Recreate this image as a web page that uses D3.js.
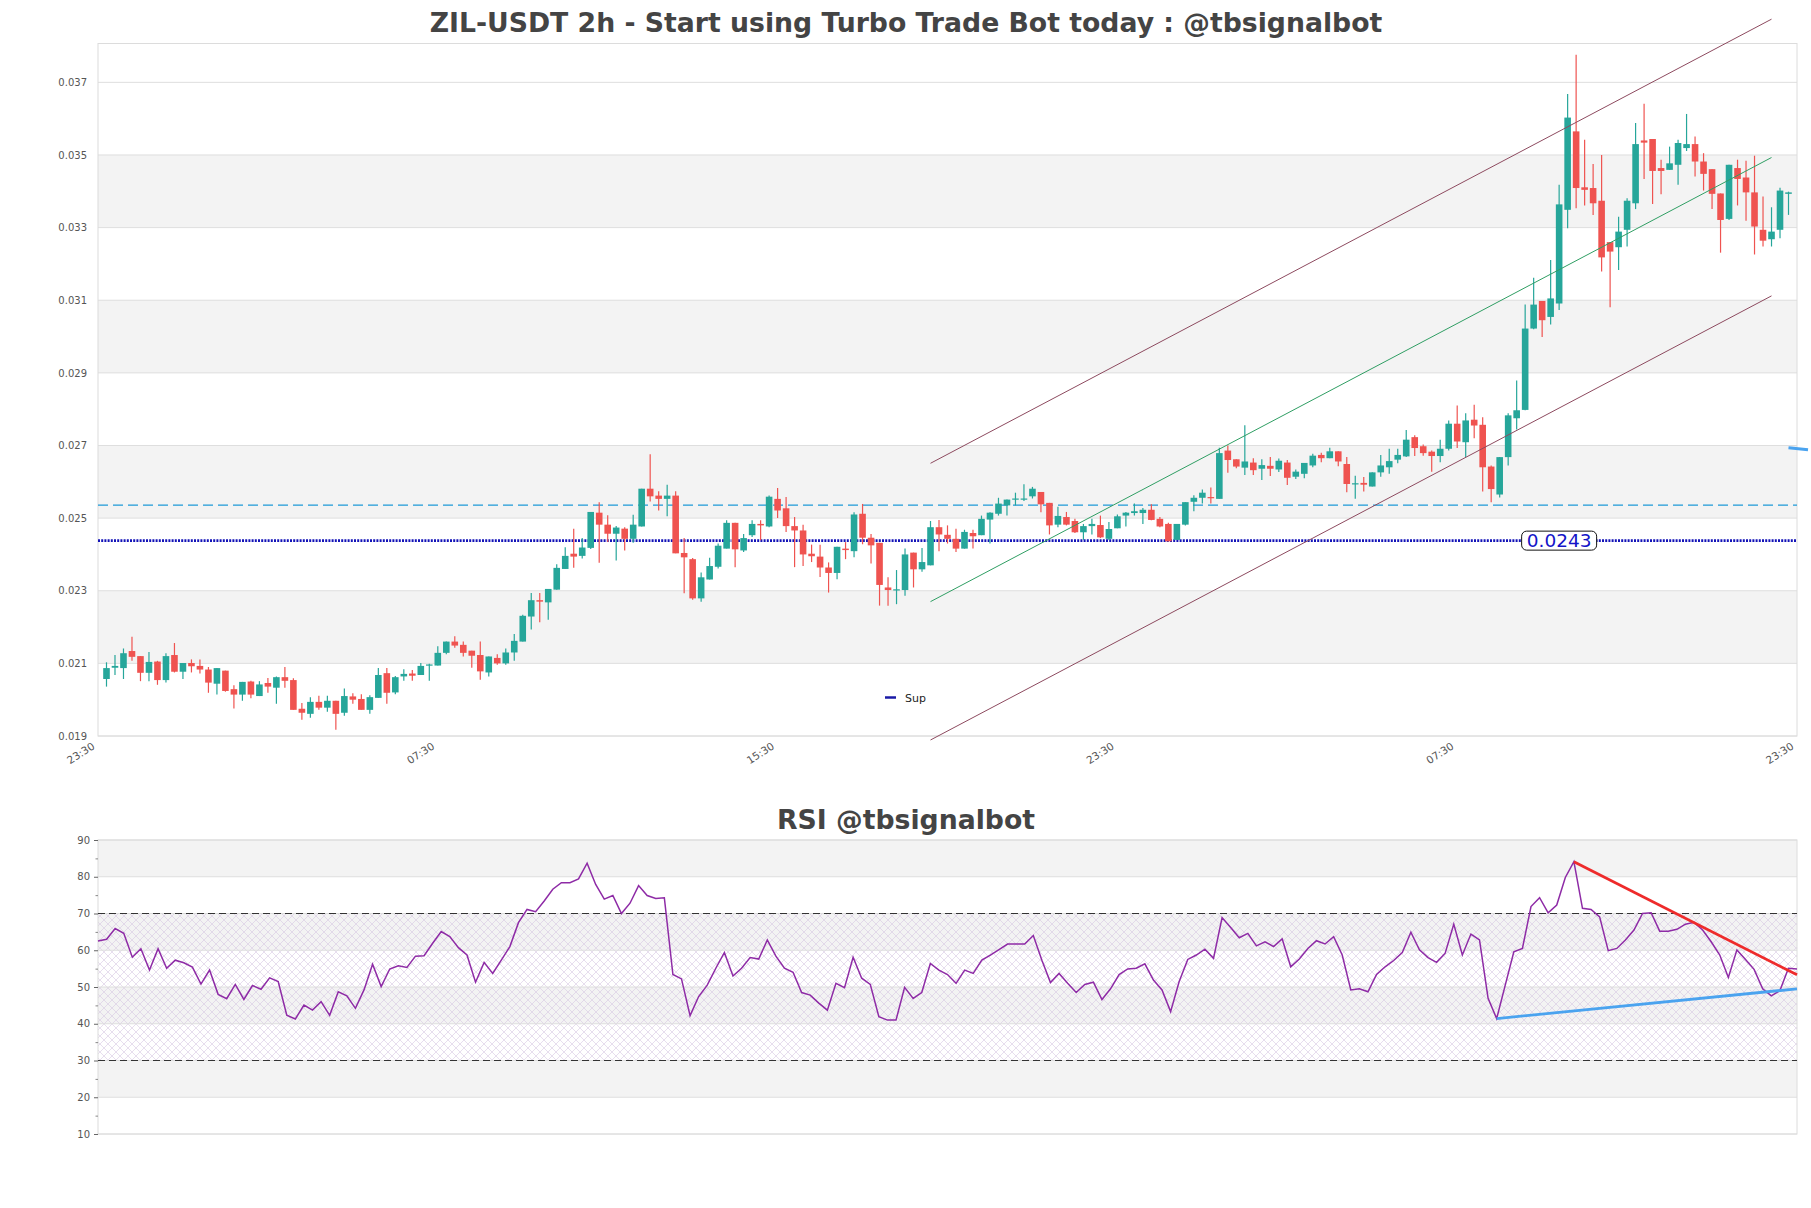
<!DOCTYPE html>
<html>
<head>
<meta charset="utf-8">
<script src="https://cdn.jsdelivr.net/npm/d3@7"></script>
<style>
    body { margin: 0; background: #fff; }
    svg { display: block; font-family: 'DejaVu Sans', sans-serif; }
</style>
</head>
<body>
<svg id="chart" width="1811" height="1208"></svg>
<script>
// ZIL-USDT 2h candles (index 1..199)
let opens = [
    0.02057, 0.02088, 0.02087, 0.02134, 0.02120, 0.02074, 0.02105, 0.02054, 0.02123, 0.02077,
    0.02101, 0.02093, 0.02083, 0.02044, 0.02080, 0.02029, 0.02014, 0.02050, 0.02010, 0.02046,
    0.02033, 0.02062, 0.02054, 0.01975, 0.01961, 0.01994, 0.01978, 0.01997, 0.01964, 0.02009,
    0.02002, 0.01972, 0.02005, 0.02073, 0.02020, 0.02064, 0.02072, 0.02068, 0.02094, 0.02094,
    0.02129, 0.02160, 0.02151, 0.02135, 0.02123, 0.02075, 0.02115, 0.02100, 0.02130, 0.02160,
    0.02229, 0.02274, 0.02268, 0.02303, 0.02360, 0.02402, 0.02396, 0.02418, 0.02515, 0.02482,
    0.02457, 0.02471, 0.02443, 0.02477, 0.02581, 0.02562, 0.02553, 0.02562, 0.02404, 0.02387,
    0.02279, 0.02331, 0.02366, 0.02416, 0.02487, 0.02411, 0.02453, 0.02484, 0.02477, 0.02553,
    0.02527, 0.02478, 0.02466, 0.02402, 0.02394, 0.02364, 0.02349, 0.02416, 0.02409, 0.02512,
    0.02446, 0.02432, 0.02309, 0.02302, 0.02302, 0.02405, 0.02359, 0.02370, 0.02475, 0.02454,
    0.02443, 0.02416, 0.02459, 0.02453, 0.02496, 0.02512, 0.02535, 0.02551, 0.02551, 0.02560,
    0.02572, 0.02542, 0.02482, 0.02503, 0.02492, 0.02461, 0.02478, 0.02481, 0.02443, 0.02472,
    0.02507, 0.02514, 0.02514, 0.02523, 0.02498, 0.02484, 0.02440, 0.02482, 0.02545, 0.02556,
    0.02558, 0.02553, 0.02686, 0.02662, 0.02639, 0.02653, 0.02636, 0.02644, 0.02634, 0.02653,
    0.02614, 0.02622, 0.02645, 0.02674, 0.02665, 0.02684, 0.02649, 0.02594, 0.02597, 0.02587,
    0.02626, 0.02640, 0.02661, 0.02670, 0.02723, 0.02698, 0.02683, 0.02671, 0.02691, 0.02760,
    0.02709, 0.02771, 0.02757, 0.02642, 0.02565, 0.02668, 0.02775, 0.02798, 0.03022, 0.03098,
    0.03054, 0.03091, 0.03349, 0.03565, 0.03411, 0.03409, 0.03374, 0.03260, 0.03246, 0.03294,
    0.03367, 0.03540, 0.03544, 0.03464, 0.03459, 0.03473, 0.03519, 0.03530, 0.03482, 0.03461,
    0.03394, 0.03324, 0.03464, 0.03438, 0.03397, 0.03294, 0.03268, 0.03294, 0.03393
];
let highs = [
    0.02103, 0.02123, 0.02141, 0.02173, 0.02120, 0.02131, 0.02107, 0.02128, 0.02156, 0.02101,
    0.02111, 0.02111, 0.02090, 0.02087, 0.02080, 0.02040, 0.02049, 0.02052, 0.02051, 0.02060,
    0.02064, 0.02090, 0.02059, 0.01991, 0.02007, 0.02011, 0.02011, 0.01997, 0.02031, 0.02018,
    0.02015, 0.02012, 0.02087, 0.02087, 0.02065, 0.02084, 0.02082, 0.02101, 0.02099, 0.02147,
    0.02160, 0.02175, 0.02160, 0.02135, 0.02160, 0.02119, 0.02125, 0.02141, 0.02181, 0.02234,
    0.02294, 0.02294, 0.02305, 0.02373, 0.02420, 0.02471, 0.02445, 0.02517, 0.02544, 0.02508,
    0.02478, 0.02475, 0.02509, 0.02581, 0.02676, 0.02574, 0.02592, 0.02574, 0.02445, 0.02390,
    0.02350, 0.02391, 0.02430, 0.02494, 0.02487, 0.02456, 0.02494, 0.02494, 0.02562, 0.02583,
    0.02558, 0.02503, 0.02482, 0.02427, 0.02427, 0.02378, 0.02421, 0.02434, 0.02516, 0.02539,
    0.02456, 0.02432, 0.02337, 0.02357, 0.02416, 0.02405, 0.02418, 0.02492, 0.02495, 0.02480,
    0.02471, 0.02468, 0.02468, 0.02507, 0.02516, 0.02556, 0.02551, 0.02570, 0.02593, 0.02586,
    0.02572, 0.02542, 0.02531, 0.02517, 0.02498, 0.02484, 0.02498, 0.02507, 0.02489, 0.02510,
    0.02517, 0.02540, 0.02528, 0.02538, 0.02503, 0.02487, 0.02484, 0.02544, 0.02563, 0.02579,
    0.02584, 0.02694, 0.02700, 0.02662, 0.02756, 0.02665, 0.02662, 0.02668, 0.02664, 0.02660,
    0.02634, 0.02652, 0.02677, 0.02680, 0.02694, 0.02684, 0.02668, 0.02617, 0.02613, 0.02626,
    0.02674, 0.02691, 0.02691, 0.02743, 0.02728, 0.02703, 0.02686, 0.02716, 0.02769, 0.02810,
    0.02789, 0.02812, 0.02778, 0.02645, 0.02668, 0.02789, 0.02879, 0.03088, 0.03162, 0.03098,
    0.03211, 0.03418, 0.03668, 0.03776, 0.03542, 0.03475, 0.03500, 0.03260, 0.03330, 0.03381,
    0.03588, 0.03641, 0.03544, 0.03487, 0.03523, 0.03542, 0.03613, 0.03551, 0.03505, 0.03461,
    0.03394, 0.03473, 0.03487, 0.03484, 0.03498, 0.03386, 0.03356, 0.03410, 0.03399
];
let lows = [
    0.02036, 0.02068, 0.02057, 0.02107, 0.02051, 0.02051, 0.02041, 0.02047, 0.02075, 0.02057,
    0.02075, 0.02072, 0.02019, 0.02014, 0.02022, 0.01976, 0.01997, 0.02004, 0.02010, 0.02019,
    0.01989, 0.02033, 0.01972, 0.01945, 0.01950, 0.01972, 0.01967, 0.01917, 0.01956, 0.01989,
    0.01972, 0.01961, 0.02005, 0.01989, 0.02015, 0.02052, 0.02052, 0.02068, 0.02052, 0.02094,
    0.02125, 0.02143, 0.02119, 0.02088, 0.02055, 0.02064, 0.02096, 0.02096, 0.02107, 0.02160,
    0.02193, 0.02213, 0.02220, 0.02303, 0.02360, 0.02363, 0.02389, 0.02415, 0.02377, 0.02434,
    0.02383, 0.02411, 0.02432, 0.02477, 0.02546, 0.02521, 0.02505, 0.02403, 0.02293, 0.02275,
    0.02270, 0.02331, 0.02361, 0.02416, 0.02365, 0.02407, 0.02448, 0.02439, 0.02475, 0.02500,
    0.02462, 0.02365, 0.02368, 0.02379, 0.02338, 0.02295, 0.02332, 0.02387, 0.02392, 0.02428,
    0.02375, 0.02259, 0.02259, 0.02263, 0.02286, 0.02309, 0.02352, 0.02370, 0.02409, 0.02430,
    0.02407, 0.02416, 0.02416, 0.02453, 0.02430, 0.02507, 0.02507, 0.02535, 0.02547, 0.02554,
    0.02516, 0.02455, 0.02475, 0.02480, 0.02459, 0.02440, 0.02455, 0.02445, 0.02440, 0.02472,
    0.02477, 0.02507, 0.02484, 0.02494, 0.02475, 0.02436, 0.02440, 0.02480, 0.02519, 0.02540,
    0.02540, 0.02553, 0.02625, 0.02637, 0.02619, 0.02619, 0.02605, 0.02616, 0.02627, 0.02591,
    0.02608, 0.02610, 0.02640, 0.02654, 0.02665, 0.02643, 0.02571, 0.02553, 0.02573, 0.02587,
    0.02614, 0.02622, 0.02651, 0.02668, 0.02671, 0.02672, 0.02628, 0.02654, 0.02686, 0.02693,
    0.02668, 0.02720, 0.02573, 0.02544, 0.02557, 0.02645, 0.02744, 0.02797, 0.03020, 0.02999,
    0.03033, 0.03073, 0.03298, 0.03353, 0.03361, 0.03335, 0.03179, 0.03081, 0.03183, 0.03248,
    0.03351, 0.03434, 0.03365, 0.03392, 0.03459, 0.03418, 0.03511, 0.03441, 0.03402, 0.03351,
    0.03231, 0.03321, 0.03361, 0.03319, 0.03226, 0.03248, 0.03248, 0.03271, 0.03335
];
let closes = [
    0.02087, 0.02093, 0.02128, 0.02118, 0.02074, 0.02104, 0.02054, 0.02120, 0.02077, 0.02101,
    0.02092, 0.02083, 0.02047, 0.02087, 0.02024, 0.02014, 0.02049, 0.02014, 0.02042, 0.02036,
    0.02062, 0.02052, 0.01972, 0.01964, 0.01994, 0.01978, 0.01997, 0.01961, 0.02010, 0.02000,
    0.01972, 0.02007, 0.02068, 0.02019, 0.02062, 0.02071, 0.02066, 0.02093, 0.02097, 0.02129,
    0.02160, 0.02149, 0.02129, 0.02121, 0.02078, 0.02119, 0.02100, 0.02130, 0.02162, 0.02231,
    0.02274, 0.02270, 0.02305, 0.02363, 0.02396, 0.02394, 0.02419, 0.02517, 0.02482, 0.02457,
    0.02474, 0.02443, 0.02482, 0.02581, 0.02560, 0.02553, 0.02562, 0.02403, 0.02392, 0.02279,
    0.02337, 0.02368, 0.02424, 0.02487, 0.02414, 0.02445, 0.02484, 0.02480, 0.02559, 0.02521,
    0.02478, 0.02466, 0.02400, 0.02395, 0.02364, 0.02349, 0.02421, 0.02412, 0.02510, 0.02446,
    0.02425, 0.02316, 0.02302, 0.02304, 0.02400, 0.02359, 0.02379, 0.02475, 0.02455, 0.02443,
    0.02416, 0.02462, 0.02450, 0.02498, 0.02515, 0.02540, 0.02551, 0.02554, 0.02554, 0.02581,
    0.02538, 0.02480, 0.02506, 0.02482, 0.02461, 0.02478, 0.02484, 0.02447, 0.02470, 0.02505,
    0.02515, 0.02519, 0.02523, 0.02495, 0.02477, 0.02436, 0.02484, 0.02544, 0.02556, 0.02570,
    0.02556, 0.02679, 0.02660, 0.02642, 0.02656, 0.02632, 0.02646, 0.02636, 0.02658, 0.02611,
    0.02628, 0.02652, 0.02672, 0.02665, 0.02684, 0.02656, 0.02594, 0.02596, 0.02592, 0.02626,
    0.02645, 0.02657, 0.02674, 0.02716, 0.02693, 0.02679, 0.02671, 0.02691, 0.02760, 0.02711,
    0.02769, 0.02755, 0.02640, 0.02580, 0.02668, 0.02783, 0.02797, 0.03022, 0.03088, 0.03045,
    0.03105, 0.03364, 0.03603, 0.03409, 0.03404, 0.03367, 0.03218, 0.03234, 0.03289, 0.03374,
    0.03530, 0.03534, 0.03456, 0.03456, 0.03477, 0.03533, 0.03530, 0.03482, 0.03448, 0.03393,
    0.03321, 0.03473, 0.03434, 0.03397, 0.03303, 0.03264, 0.03289, 0.03402, 0.03397
];
let rsi = [
    62.5, 63.0, 65.9, 64.6, 58.1, 60.4, 54.6, 60.4, 55.1, 57.3,
    56.6, 55.4, 50.8, 54.6, 48.0, 46.8, 50.7, 46.6, 50.4, 49.4,
    52.5, 51.5, 42.3, 41.3, 45.1, 43.7, 46.0, 42.3, 48.7, 47.6,
    44.2, 49.2, 56.2, 50.1, 54.9, 55.8, 55.3, 58.4, 58.5, 61.9,
    65.1, 63.7, 60.7, 58.7, 51.3, 56.7, 53.7, 57.3, 61.0, 67.5,
    71.1, 70.5, 73.4, 76.6, 78.4, 78.4, 79.4, 83.7, 77.9, 73.9,
    74.9, 70.0, 72.8, 77.6, 74.9, 74.1, 74.3, 53.4, 52.2, 42.2,
    47.4, 50.5, 55.1, 59.4, 53.0, 55.1, 58.0, 57.6, 62.8, 58.4,
    55.1, 54.0, 48.5, 47.8, 45.6, 43.7, 51.0, 49.8, 58.1, 52.4,
    50.7, 41.9, 41.0, 41.0, 49.9, 46.9, 48.5, 56.4, 54.6, 53.4,
    51.0, 54.6, 53.7, 57.3, 58.7, 60.2, 61.7, 61.7, 61.7, 64.0,
    57.3, 51.2, 53.7, 51.0, 48.5, 50.7, 51.3, 46.6, 49.5, 53.4,
    54.9, 55.1, 56.3, 51.9, 49.2, 43.3, 51.5, 57.5, 58.7, 60.3,
    57.8, 68.9, 66.2, 63.4, 64.6, 61.2, 62.3, 61.0, 63.1, 55.5,
    57.6, 60.5, 62.6, 61.7, 63.7, 58.7, 49.2, 49.5, 48.7, 53.4,
    55.5, 57.2, 59.4, 64.9, 60.1, 58.0, 56.7, 59.2, 67.1, 58.7,
    64.4, 62.8, 46.9, 41.4, 50.5, 59.6, 60.5, 71.9, 74.3, 70.2,
    72.3, 79.8, 84.1, 71.4, 71.1, 69.1, 59.9, 60.5, 62.8, 65.5,
    70.0, 70.2, 65.2, 65.2, 65.7, 67.1, 67.6, 65.5, 62.3, 58.7,
    52.6, 60.1, 57.5, 54.8, 49.5, 47.6, 49.0, 55.1, 54.9
];

let xTickIdx = [0, 40, 80, 120, 160, 200];
let xTickLabels = ['23:30', '07:30', '15:30', '23:30', '07:30', '23:30'];
let priceTicks = [0.019, 0.021, 0.023, 0.025, 0.027, 0.029, 0.031, 0.033, 0.035, 0.037];
let rsiTicks = [10, 20, 30, 40, 50, 60, 70, 80, 90];
let rsiMinorTicks = [15, 25, 35, 45, 55, 65, 75, 85];

// regression channel
let chanIdx = [98, 197];
let chanMid = [0.02270, 0.03493];
let chanOffset = 0.00381;

let resLevel = 0.02536;
let supLevel = 0.02438;
let supLabel = '0.0243';
let supLabelIdx = 172;
let outIdx = [199, 201.3];
let outVals = [0.02694, 0.02688];

// rsi trend lines
let rsiDownIdx = [173, 199];
let rsiDownVals = [84.1, 53.3];
let rsiUpIdx = [164, 199];
let rsiUpVals = [41.4, 49.5];

let up = '#26a69a',
    down = '#ef5350';

let svg = d3.select('#chart');
svg.append('rect').attr('width', 1811).attr('height', 1208).attr('fill', '#fff');

let defs = svg.append('defs');
defs.append('pattern')
    .attr('id', 'hatch')
    .attr('patternUnits', 'userSpaceOnUse')
    .attr('width', 8)
    .attr('height', 8)
    .append('path')
    .attr('d', 'M0,0L8,8M8,0L0,8')
    .attr('stroke', '#d6c8e2')
    .attr('stroke-width', 0.6);

/////////////////////////////// main price panel
let m = { left: 98, right: 1797, top: 43.5, bottom: 736 };
let x = d3.scaleLinear().domain([0, 200]).range([m.left, m.right]);
let y = d3.scaleLinear().domain([0.019, 0.03807]).range([m.bottom, m.top]);

let main = svg.append('g');
main.selectAll('rect.band')
    .data([1, 3, 5, 7])
    .enter()
    .append('rect')
    .attr('x', m.left)
    .attr('width', m.right - m.left)
    .attr('y', (k) => y(priceTicks[k + 1]))
    .attr('height', (k) => y(priceTicks[k]) - y(priceTicks[k + 1]))
    .attr('fill', '#f3f3f3');

main.selectAll('line.grid')
    .data(priceTicks)
    .enter()
    .append('line')
    .attr('x1', m.left)
    .attr('x2', m.right)
    .attr('y1', (d) => y(d))
    .attr('y2', (d) => y(d))
    .attr('stroke', '#dedede');

main.append('rect')
    .attr('x', m.left)
    .attr('y', m.top)
    .attr('width', m.right - m.left)
    .attr('height', m.bottom - m.top)
    .attr('fill', 'none')
    .attr('stroke', '#dcdcdc');

// horizontal levels
main.append('line')
    .attr('x1', m.left).attr('x2', m.right)
    .attr('y1', y(resLevel)).attr('y2', y(resLevel))
    .attr('stroke', '#1e9ad8')
    .attr('stroke-width', 1.2)
    .attr('stroke-dasharray', '10,5');
main.append('line')
    .attr('x1', m.left).attr('x2', m.right)
    .attr('y1', y(supLevel)).attr('y2', y(supLevel))
    .attr('stroke', '#1414b8')
    .attr('stroke-width', 2.6)
    .attr('stroke-dasharray', '2,1.2');

let candles = d3.range(opens.length).map((i) => ({
    i: i + 1,
    o: opens[i],
    h: highs[i],
    l: lows[i],
    c: closes[i],
}));

main.selectAll('line.wick')
    .data(candles)
    .enter()
    .append('line')
    .attr('x1', (d) => x(d.i))
    .attr('x2', (d) => x(d.i))
    .attr('y1', (d) => y(d.h))
    .attr('y2', (d) => y(d.l))
    .attr('stroke', (d) => (d.c >= d.o ? up : down))
    .attr('stroke-width', 1.2);

main.selectAll('rect.body')
    .data(candles)
    .enter()
    .append('rect')
    .attr('x', (d) => x(d.i) - 3.3)
    .attr('width', 6.6)
    .attr('y', (d) => y(Math.max(d.o, d.c)))
    .attr('height', (d) => Math.max(1.2, Math.abs(y(d.o) - y(d.c))))
    .attr('fill', (d) => (d.c >= d.o ? up : down));

// channel
[
    { off: chanOffset, color: '#8d4a5f' },
    { off: 0, color: '#2f9e63' },
    { off: -chanOffset, color: '#8d4a5f' },
].forEach((c) => {
    main.append('line')
        .attr('x1', x(chanIdx[0]))
        .attr('x2', x(chanIdx[1]))
        .attr('y1', y(chanMid[0] + c.off))
        .attr('y2', y(chanMid[1] + c.off))
        .attr('stroke', c.color)
        .attr('stroke-width', 1);
});

main.append('line')
    .attr('x1', x(outIdx[0])).attr('x2', x(outIdx[1]))
    .attr('y1', y(outVals[0])).attr('y2', y(outVals[1]))
    .attr('stroke', '#4aa3ef')
    .attr('stroke-width', 3);

// level label
let lbl = main.append('g')
    .attr('transform', `translate(${x(supLabelIdx)},${y(supLevel)})`);
lbl.append('rect')
    .attr('x', -37.5).attr('y', -9.5)
    .attr('width', 75).attr('height', 19)
    .attr('rx', 5)
    .attr('fill', '#fff')
    .attr('stroke', '#111')
    .attr('stroke-width', 1);
lbl.append('text')
    .attr('text-anchor', 'middle')
    .attr('dy', '0.37em')
    .attr('font-size', 18.5)
    .attr('fill', '#1414c8')
    .text(supLabel);

// legend
main.append('line')
    .attr('x1', 885).attr('x2', 896)
    .attr('y1', 697.5).attr('y2', 697.5)
    .attr('stroke', '#1a1aa6')
    .attr('stroke-width', 2.5);
main.append('text')
    .attr('x', 905).attr('y', 701.5)
    .attr('font-size', 11)
    .attr('fill', '#222')
    .text('Sup');

// axes
let yAxis = svg.append('g')
    .attr('transform', `translate(${m.left},0)`)
    .call(d3.axisLeft(y).tickValues(priceTicks).tickFormat(d3.format('.3f')).tickSize(0).tickPadding(11));
yAxis.select('.domain').remove();
yAxis.selectAll('text').attr('font-size', 10).attr('font-family', 'DejaVu Sans').attr('fill', '#555');

let xAxis = svg.append('g')
    .attr('transform', `translate(0,${m.bottom})`)
    .call(d3.axisBottom(x).tickValues(xTickIdx).tickFormat((d, i) => xTickLabels[i]).tickSize(0));
xAxis.select('.domain').remove();
xAxis.selectAll('text')
    .attr('x', 0).attr('y', 0).attr('dy', 0)
    .attr('text-anchor', 'end')
    .attr('transform', 'translate(-3,12) rotate(-33)')
    .attr('font-size', 10.5)
    .attr('font-family', 'DejaVu Sans')
    .attr('fill', '#555');

svg.append('text')
    .attr('x', 906).attr('y', 32)
    .attr('text-anchor', 'middle')
    .attr('font-size', 26.7)
    .attr('font-weight', 'bold')
    .attr('fill', '#444')
    .text('ZIL-USDT 2h - Start using Turbo Trade Bot today : @tbsignalbot');

/////////////////////////////// RSI panel
let r = { left: 98, right: 1797, top: 840, bottom: 1134 };
let rx = d3.scaleLinear().domain([1, 199]).range([r.left, r.right]);
let ry = d3.scaleLinear().domain([10, 90]).range([r.bottom, r.top]);

let rp = svg.append('g');
rp.selectAll('rect.band')
    .data([1, 3, 5, 7])
    .enter()
    .append('rect')
    .attr('x', r.left)
    .attr('width', r.right - r.left)
    .attr('y', (k) => ry(rsiTicks[k + 1]))
    .attr('height', (k) => ry(rsiTicks[k]) - ry(rsiTicks[k + 1]))
    .attr('fill', '#f3f3f3');

rp.append('rect')
    .attr('x', r.left)
    .attr('width', r.right - r.left)
    .attr('y', ry(70))
    .attr('height', ry(30) - ry(70))
    .attr('fill', 'url(#hatch)');

rp.selectAll('line.grid')
    .data(rsiTicks)
    .enter()
    .append('line')
    .attr('x1', r.left)
    .attr('x2', r.right)
    .attr('y1', (d) => ry(d))
    .attr('y2', (d) => ry(d))
    .attr('stroke', '#dedede');

rp.append('rect')
    .attr('x', r.left)
    .attr('y', r.top)
    .attr('width', r.right - r.left)
    .attr('height', r.bottom - r.top)
    .attr('fill', 'none')
    .attr('stroke', '#dcdcdc');

rp.selectAll('line.lvl')
    .data([30, 70])
    .enter()
    .append('line')
    .attr('x1', r.left)
    .attr('x2', r.right)
    .attr('y1', (d) => ry(d))
    .attr('y2', (d) => ry(d))
    .attr('stroke', '#333')
    .attr('stroke-width', 1.1)
    .attr('stroke-dasharray', '7,4');

let rsiLine = d3.line()
    .x((d, i) => rx(i + 1))
    .y((d) => ry(d));
rp.append('path')
    .attr('d', rsiLine(rsi))
    .attr('fill', 'none')
    .attr('stroke', '#8e2ba6')
    .attr('stroke-width', 1.5);

rp.append('line')
    .attr('x1', rx(rsiDownIdx[0])).attr('x2', rx(rsiDownIdx[1]))
    .attr('y1', ry(rsiDownVals[0])).attr('y2', ry(rsiDownVals[1]))
    .attr('stroke', '#ee2b2b')
    .attr('stroke-width', 2.8);
rp.append('line')
    .attr('x1', rx(rsiUpIdx[0])).attr('x2', rx(rsiUpIdx[1]))
    .attr('y1', ry(rsiUpVals[0])).attr('y2', ry(rsiUpVals[1]))
    .attr('stroke', '#4aa3ef')
    .attr('stroke-width', 2.8);

let ryAxis = svg.append('g')
    .attr('transform', `translate(${r.left},0)`)
    .call(d3.axisLeft(ry).tickValues(rsiTicks).tickSize(4).tickPadding(4));
ryAxis.select('.domain').remove();
ryAxis.selectAll('line').attr('stroke', '#666');
ryAxis.selectAll('text').attr('font-size', 10).attr('font-family', 'DejaVu Sans').attr('fill', '#555');

let ryMinor = svg.append('g')
    .attr('transform', `translate(${r.left},0)`)
    .call(d3.axisLeft(ry).tickValues(rsiMinorTicks).tickSize(2.5).tickFormat(''));
ryMinor.select('.domain').remove();
ryMinor.selectAll('line').attr('stroke', '#888');

svg.append('text')
    .attr('x', 906).attr('y', 829)
    .attr('text-anchor', 'middle')
    .attr('font-size', 26.7)
    .attr('font-weight', 'bold')
    .attr('fill', '#444')
    .text('RSI @tbsignalbot');
</script>
</body>
</html>
